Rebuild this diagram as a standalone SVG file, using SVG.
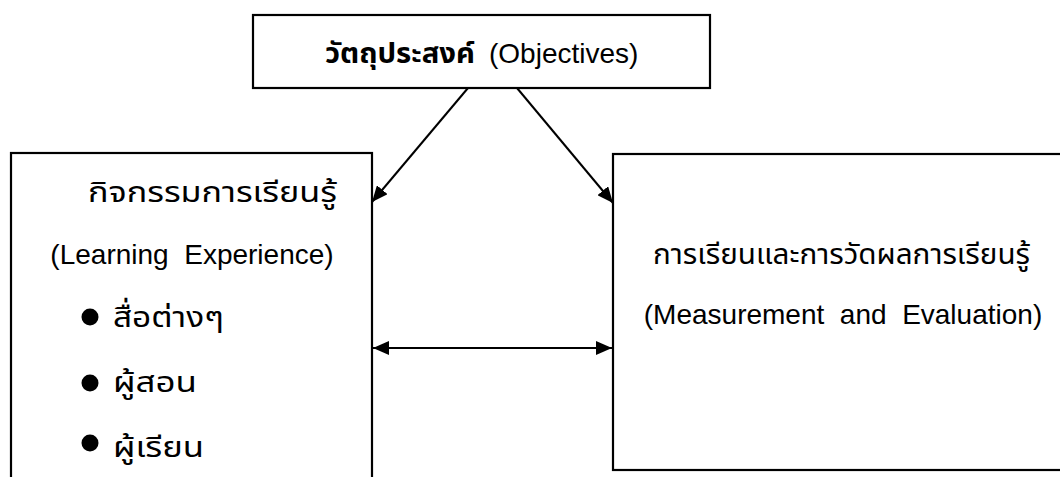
<svg xmlns="http://www.w3.org/2000/svg" width="1060" height="477" viewBox="0 0 1060 477">
<defs>
<style>
.box{fill:#fff;stroke:#000;stroke-width:2.2}
.t{font-family:"Liberation Sans","Noto Sans Thai","Noto Sans",sans-serif;font-size:28px;fill:#000}
.th{font-family:"Noto Sans Thai","Liberation Sans","Noto Sans",sans-serif;font-size:29px;fill:#000}
.ln{stroke:#000;stroke-width:2;fill:none}
</style>
<marker id="ah" markerUnits="userSpaceOnUse" markerWidth="18" markerHeight="14" refX="16" refY="7" orient="auto-start-reverse">
<path d="M0,0 L16,7 L0,14 Z" fill="#000"/>
</marker>
</defs>
<rect width="1060" height="477" fill="#fff"/>
<g id="objectives">
<rect class="box" x="253" y="15" width="457" height="73"/>
<text class="th" x="325" y="63" font-weight="bold" font-size="31" textLength="150" lengthAdjust="spacingAndGlyphs">วัตถุประสงค์</text>
<text class="t" x="489" y="63">(Objectives)</text>
</g>
<g id="learning">
<rect class="box" x="11" y="153" width="361" height="340"/>
<text class="th" x="88" y="202" font-size="27" textLength="249" lengthAdjust="spacingAndGlyphs">กิจกรรมการเรียนรู้</text>
<text class="t" x="192" y="264" text-anchor="middle" xml:space="preserve">(Learning  Experience)</text>
<circle cx="90" cy="317" r="8.5"/>
<text class="th" x="113" y="327" textLength="111" lengthAdjust="spacingAndGlyphs">สื่อต่างๆ</text>
<circle cx="90" cy="383" r="8.5"/>
<text class="th" x="113" y="392" textLength="84" lengthAdjust="spacingAndGlyphs">ผู้สอน</text>
<circle cx="90" cy="443" r="8.5"/>
<text class="th" x="113" y="457" textLength="91" lengthAdjust="spacingAndGlyphs">ผู้เรียน</text>
</g>
<g id="measurement">
<rect class="box" x="613" y="154" width="460" height="316"/>
<text class="th" x="653" y="264" textLength="377" lengthAdjust="spacingAndGlyphs">การเรียนและการวัดผลการเรียนรู้</text>
<text class="t" x="843" y="324" text-anchor="middle" xml:space="preserve">(Measurement  and  Evaluation)</text>
</g>
<g id="connectors">
<line class="ln" x1="468" y1="88" x2="372" y2="202" marker-end="url(#ah)"/>
<line class="ln" x1="517" y1="88" x2="613" y2="203" marker-end="url(#ah)"/>
<line class="ln" x1="373" y1="348" x2="612" y2="348" marker-start="url(#ah)" marker-end="url(#ah)"/>
</g>
</svg>
